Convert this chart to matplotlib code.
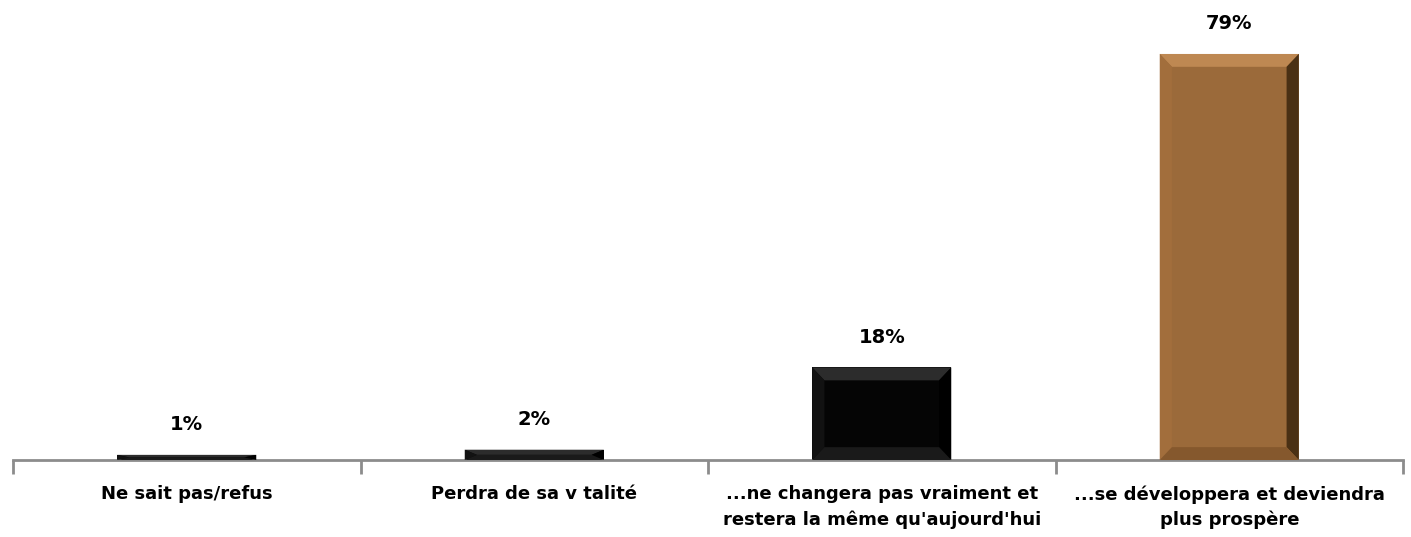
import matplotlib.pyplot as plt
from matplotlib.patches import Polygon
import numpy as np

categories = ["Ne sait pas/refus", "Perdra de sa v talité",
              "...ne changera pas vraiment et\nrestera la même qu'aujourd'hui",
              "...se développera et deviendra\nplus prospère"]
values = [1, 2, 18, 79]
colors = ["#050505", "#050505", "#050505", "#9B6A3A"]

# bevel colours per bar: (top, left, right, bottom)
bevels = {
    "#050505": ("#2c2c2c", "#121212", "#000000", "#1a1a1a"),
    "#9B6A3A": ("#BE8852", "#A26E3C", "#4A3014", "#85582D"),
}

fig = plt.figure(figsize=(14.11, 5.37), dpi=100)
ax = fig.add_axes([13 / 1411, 77 / 537, 1390 / 1411, 460 / 537])

x = np.arange(len(categories))
bars = ax.bar(x, values, width=0.40, color=colors, zorder=2)

ax.set_xlim(-0.5, len(categories) - 0.5)
ax.set_ylim(0, 89.5)

# subtle bevel effect
bx = 0.035   # in category units
by = 2.5     # in percent units
for b, c in zip(bars, colors):
    x0, w, h = b.get_x(), b.get_width(), b.get_height()
    x1 = x0 + w
    d = min(by, h / 2)
    top, left, right, bottom = bevels[c]
    ax.add_patch(Polygon([(x0, h), (x1, h), (x1 - bx, h - d), (x0 + bx, h - d)], color=top, zorder=3, lw=0))
    ax.add_patch(Polygon([(x0, 0), (x0, h), (x0 + bx, h - d), (x0 + bx, d)], color=left, zorder=3, lw=0))
    ax.add_patch(Polygon([(x1, 0), (x1, h), (x1 - bx, h - d), (x1 - bx, d)], color=right, zorder=3, lw=0))
    ax.add_patch(Polygon([(x0, 0), (x1, 0), (x1 - bx, d), (x0 + bx, d)], color=bottom, zorder=3, lw=0))
    ax.text(b.get_x() + w / 2, h + 4, f"{h:.0f}%", ha="center", va="bottom",
            fontsize=14, fontweight="bold", color="black")

for s in ["top", "right", "left"]:
    ax.spines[s].set_visible(False)
ax.spines["bottom"].set_color("#8c8c8c")
ax.spines["bottom"].set_linewidth(2)
ax.set_yticks([])

ax.set_xticks(x)
ax.set_xticklabels(categories, fontsize=13, fontweight="bold", linespacing=1.5)
ax.tick_params(axis="x", length=0, pad=18)
ax.set_xticks(np.arange(-0.5, len(categories)), minor=True)
ax.tick_params(axis="x", which="minor", length=10, width=2, color="#8c8c8c")

fig.savefig("out.png", dpi=100)
